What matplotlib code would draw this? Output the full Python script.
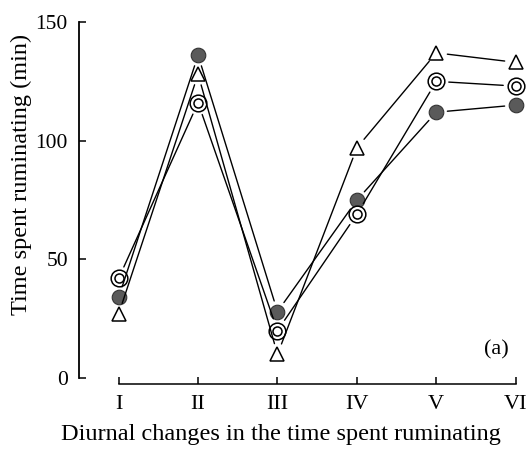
import matplotlib.pyplot as plt

periods = ["I", "II", "III", "IV", "V", "VI"]
filled = [34, 136, 28, 75, 112, 115]
double = [42, 116, 20, 69, 125, 123]
triangle = [27, 128, 10, 97, 137, 133]

plt.rcParams['font.family'] = ['Liberation Serif', 'DejaVu Serif']

fig = plt.figure(figsize=(5.3, 4.49), dpi=100)
ax = fig.add_axes([0.149, 0.158, 0.854, 0.793])
x = list(range(len(periods)))


def connect(vals, gap):
    for i in range(len(vals) - 1):
        ax.annotate("", xy=(x[i + 1], vals[i + 1]), xytext=(x[i], vals[i]),
                    arrowprops=dict(arrowstyle='-', color='black', lw=1.0,
                                    shrinkA=gap, shrinkB=gap))


connect(filled, 8)
connect(double, 9)
connect(triangle, 8)

# filled circles
ax.plot(x, filled, 'o', ms=10.5, mfc='#5a5a5a', mec='#333333', mew=0.8, ls='none')
# double circles
ax.plot(x, double, 'o', ms=12, mfc='white', mec='black', mew=1.1, ls='none')
ax.plot(x, double, 'o', ms=6.5, mfc='none', mec='black', mew=1.1, ls='none')
# triangles
ax.plot(x, triangle, '^', ms=9.5, mfc='white', mec='black', mew=1.1, ls='none')

ax.set_xlim(-0.5, 5.2)
ax.set_ylim(0, 150)
ax.set_yticks([0, 50, 100, 150])
ax.set_xticks(x)
ax.set_xticklabels(periods)

for s in ['top', 'right']:
    ax.spines[s].set_visible(False)
ax.spines['bottom'].set_position(('outward', 4))
ax.spines['bottom'].set_bounds(0, 5)
ax.spines['left'].set_bounds(0, 150)
ax.spines['left'].set_linewidth(1.3)
ax.spines['bottom'].set_linewidth(1.1)

ax.tick_params(axis='y', direction='in', length=5, width=1.1, labelsize=15.5, pad=8)
ax.tick_params(axis='x', direction='in', length=5, width=1.1, labelsize=16, pad=8)

ax.set_ylabel("Time spent ruminating (min)", fontsize=17.5)
ax.set_xlabel("Diurnal changes in the time spent ruminating", fontsize=17.5)
ax.yaxis.set_label_coords(-0.103, 0.573)
ax.xaxis.set_label_coords(0.447, -0.128)
ax.text(4.76, 12, "(a)", fontsize=16, ha='center', va='center')

fig.savefig("out.png", dpi=100)
